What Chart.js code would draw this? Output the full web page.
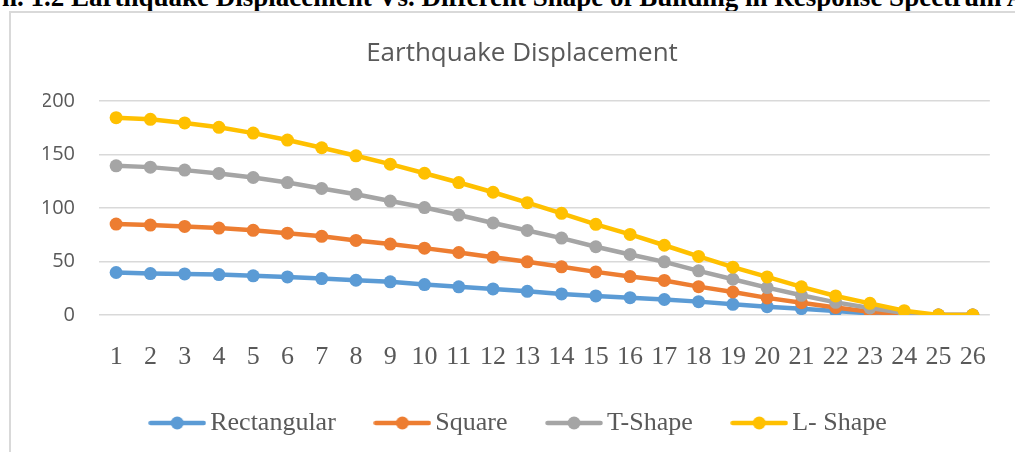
<!DOCTYPE html>
<html>
<head>
<meta charset="utf-8">
<script src="https://cdn.jsdelivr.net/npm/chart.js@4"></script>
<style>
  html, body { margin: 0; padding: 0; background: #fff; overflow: hidden; }
  body { width: 1015px; height: 452px; position: relative; }
  #caption {
    position: absolute; left: 2px; top: -15.5px;
    font: bold 27px "Liberation Serif", serif; line-height: 25px;
    white-space: nowrap; color: #000;
  }
  #frame {
    position: absolute; left: 9px; top: 11px; width: 1020px; height: 460px;
    border: 2px solid #d9d9d9; border-right: none; border-bottom: none;
  }
  #chart { position: absolute; left: 0; top: 0; }
</style>
</head>
<body>
<div id="caption">n. 1.2 Earthquake Displacement Vs. Different Shape of Building in Response Spectrum Analysis</div>
<div id="frame"></div>
<canvas id="chart" width="1015" height="452"></canvas>
<script>
// values
const labels = ['1','2','3','4','5','6','7','8','9','10','11','12','13','14','15','16','17','18','19','20','21','22','23','24','25','26'];
const rectangular = [39.7, 38.7, 38.4, 37.8, 36.6, 35.6, 34, 32.5, 31, 28.4, 26.3, 24.4, 22.1, 19.7, 17.8, 16.2, 14.5, 12.5, 10, 7.8, 5.9, 3.8, 1.5, 0.5, 0, 0];
const square = [85, 84, 82.8, 81.2, 79.1, 76.5, 73.5, 69.7, 66.3, 62.5, 58.4, 54, 49.7, 45, 40.3, 35.9, 32.3, 26.5, 21.5, 16, 11.5, 7.1, 3.1, 0.5, 0, 0];
const tShape = [139.4, 138.2, 135.4, 132.3, 128.5, 123.8, 118.2, 112.9, 106.5, 100.4, 93.4, 86, 79, 71.9, 63.8, 56.6, 49.7, 41.3, 33.4, 25.6, 18.4, 11.8, 6.6, 1.9, 0, 0];
const lShape = [184.4, 182.9, 179.5, 175.4, 170, 163.5, 156.3, 148.8, 141, 132.5, 123.8, 114.7, 105, 95, 84.7, 75.3, 65.2, 54.7, 44.7, 35.6, 26.3, 17.8, 10.9, 4, 0, 0];
const seriesNames = ['Rectangular', 'Square', 'T-Shape', 'L- Shape'];
const yTicks = [0, 50, 100, 150, 200];

const colors = ['#5b9bd5', '#ed7d31', '#a5a5a5', '#ffc000'];
const grey = '#595959';

// little line+dot icon for the legend
function legendIcon(color) {
    const c = document.createElement('canvas');
    c.width = 58; c.height = 14;
    const g = c.getContext('2d');
    g.strokeStyle = color; g.lineWidth = 4.5; g.lineCap = 'round';
    g.beginPath(); g.moveTo(2.5, 7); g.lineTo(55.5, 7); g.stroke();
    g.fillStyle = color;
    g.beginPath(); g.arc(29, 7, 6.5, 0, Math.PI * 2); g.fill();
    return c;
}
const icons = colors.map(legendIcon);

function series(i, data) {
    return {
        label: seriesNames[i],
        data: data,
        borderColor: colors[i],
        backgroundColor: colors[i],
        borderWidth: 4.5,
        pointRadius: 6.5,
        pointBorderWidth: 0,
        pointHoverRadius: 6.5,
        tension: 0,
        order: 3 - i   // L- Shape ends up on top
    };
}

const ctx = document.getElementById('chart').getContext('2d');
new Chart(ctx, {
    type: 'line',
    data: {
        labels: labels,
        datasets: [series(0, rectangular), series(1, square), series(2, tShape), series(3, lShape)]
    },
    options: {
        responsive: false,
        animation: false,
        layout: { padding: { left: 43, right: 14, top: 0, bottom: 6 } },
        plugins: {
            title: {
                display: true,
                text: 'Earthquake Displacement',
                color: grey,
                font: { family: 'Open Sans', size: 26, weight: 'normal' },
                padding: { top: 38, bottom: 31.8 }
            },
            legend: {
                position: 'bottom',
                labels: {
                    usePointStyle: true,
                    pointStyleWidth: 40,
                    padding: 40,
                    color: grey,
                    font: { family: 'Liberation Serif', size: 26 },
                    generateLabels: chart => chart.data.datasets.map((ds, i) => ({
                        text: i < 3 ? ds.label + ' ' : ds.label,
                        fillStyle: ds.borderColor,
                        strokeStyle: ds.borderColor,
                        lineWidth: 0,
                        pointStyle: icons[i],
                        fontColor: grey,
                        hidden: false,
                        datasetIndex: i
                    }))
                }
            },
            tooltip: { enabled: false }
        },
        scales: {
            x: {
                offset: true,
                grid: { display: false, drawTicks: false },
                border: { display: false },
                ticks: {
                    color: grey,
                    font: { family: 'Liberation Serif', size: 26, lineHeight: '26px' },
                    padding: 29,
                    maxRotation: 0,
                    autoSkip: false
                },
                afterFit: s => { s.height = 55; }
            },
            y: {
                min: yTicks[0],
                max: yTicks[yTicks.length - 1],
                grid: { color: '#d9d9d9', lineWidth: 1.5, drawTicks: false },
                border: { display: false },
                ticks: {
                    stepSize: 50,
                    padding: 24,
                    color: grey,
                    font: { family: 'Open Sans', size: 20 }
                },
                afterFit: s => { s.width = 56; }
            }
        }
    }
});
</script>
</body>
</html>
